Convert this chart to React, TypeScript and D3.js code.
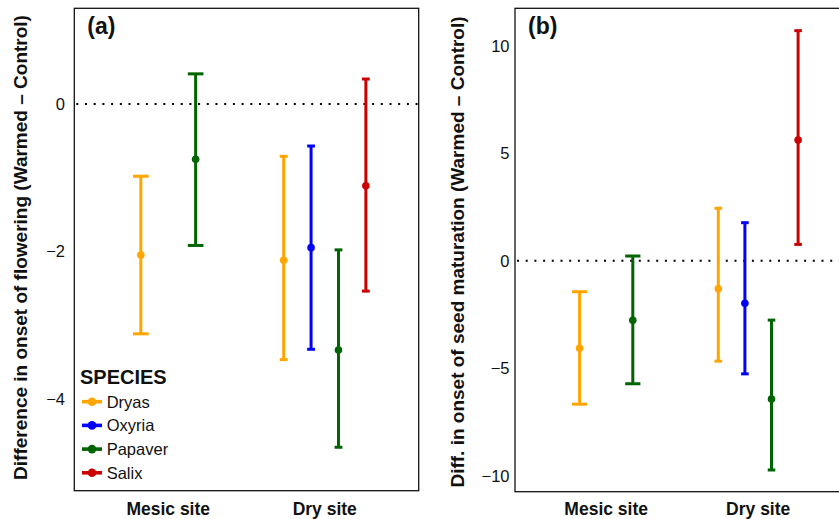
import React from 'react';
import * as d3 from 'd3';

// categories
const sites = ['Mesic site', 'Dry site'];
const species = ['Dryas', 'Oxyria', 'Papaver', 'Salix'];
const speciesColors = ['#FFA500', '#0000FF', '#006400', '#CD0000'];

// (a) onset of flowering
const flowerSite = ['Mesic site', 'Mesic site', 'Dry site', 'Dry site', 'Dry site', 'Dry site'];
const flowerSpecies = ['Dryas', 'Papaver', 'Dryas', 'Oxyria', 'Papaver', 'Salix'];
const flowerMean = [-2.05, -0.75, -2.12, -1.95, -3.34, -1.11];
const flowerLower = [-3.12, -1.92, -3.47, -3.33, -4.66, -2.54];
const flowerUpper = [-0.98, 0.41, -0.71, -0.57, -1.98, 0.34];
const flowerTicks = [-4, -2, 0];

// (b) onset of seed maturation
const seedSite = ['Mesic site', 'Mesic site', 'Dry site', 'Dry site', 'Dry site', 'Dry site'];
const seedSpecies = ['Dryas', 'Papaver', 'Dryas', 'Oxyria', 'Papaver', 'Salix'];
const seedMean = [-4.07, -2.77, -1.3, -1.98, -6.43, 5.61];
const seedLower = [-6.67, -5.72, -4.67, -5.26, -9.73, 0.76];
const seedUpper = [-1.44, 0.22, 2.44, 1.77, -2.76, 10.7];
const seedTicks = [-10, -5, 0, 5, 10];

const FONT = 'Liberation Sans, Arial, Helvetica, sans-serif';
const color = d3.scaleOrdinal<string, string>().domain(species).range(speciesColors);

type PanelProps = {
  label: string;
  title: string;
  site: string[];
  sp: string[];
  mean: number[];
  lower: number[];
  upper: number[];
  ticks: number[];
  left: number;
  right: number;
  top: number;
  bottom: number;
  yDomain: [number, number];
  tickX: number;
  titleX: number;
  titleY: number;
  legend?: boolean;
};

function Panel(p: PanelProps) {
  const x = d3.scalePoint<string>().domain(sites).range([p.left, p.right]).padding(0.6);
  const step = x.step();
  const y = d3.scaleLinear().domain(p.yDomain).range([p.bottom, p.top]);
  const dodge = 0.7;
  const capW = 0.2;

  const rows = p.mean.map((m, i) => {
    const inSite = p.sp.filter((_, j) => p.site[j] === p.site[i]);
    const n = inSite.length;
    const k = inSite.indexOf(p.sp[i]);
    const cx = (x(p.site[i]) as number) + (k - (n - 1) / 2) * (dodge / n) * step;
    return { cx, m, lo: p.lower[i], hi: p.upper[i], col: color(p.sp[i]), cap: (capW / n) * step };
  });

  return (
    <g>
      <rect x={p.left} y={p.top} width={p.right - p.left} height={p.bottom - p.top}
        fill="white" stroke="#111" strokeWidth={1.3} />
      <line x1={p.left + 2} x2={p.right} y1={y(0)} y2={y(0)} stroke="black"
        strokeWidth={2} strokeDasharray="2 6.7" />
      {rows.map((r, i) => (
        <g key={i}>
          <line x1={r.cx} x2={r.cx} y1={y(r.lo)} y2={y(r.hi)} stroke={r.col} strokeWidth={3} />
          <line x1={r.cx - r.cap / 2} x2={r.cx + r.cap / 2} y1={y(r.lo)} y2={y(r.lo)} stroke={r.col} strokeWidth={3} />
          <line x1={r.cx - r.cap / 2} x2={r.cx + r.cap / 2} y1={y(r.hi)} y2={y(r.hi)} stroke={r.col} strokeWidth={3} />
          <circle cx={r.cx} cy={y(r.m)} r={3.8} fill={r.col} />
        </g>
      ))}
      {p.ticks.map(t => (
        <text key={t} x={p.tickX} y={y(t)} dy="0.36em" textAnchor="end"
          fontFamily={FONT} fontSize={16.5} fill="#111">
          {t < 0 ? '\u2212' + Math.abs(t) : String(t)}
        </text>
      ))}
      {sites.map(s => (
        <text key={s} x={x(s)} y={515} textAnchor="middle" fontFamily={FONT}
          fontWeight="bold" fontSize={17.5} fill="#111">{s}</text>
      ))}
      <text transform={`translate(${p.titleX},${p.titleY}) rotate(-90)`} textAnchor="middle"
        fontFamily={FONT} fontWeight="bold" fontSize={19} fill="#111">{p.title}</text>
      <text x={p.left + 13} y={34} fontFamily={FONT} fontWeight="bold" fontSize={23} fill="#111">{p.label}</text>
      {p.legend && (
        <g>
          <text x={80} y={384} fontFamily={FONT} fontWeight="bold" fontSize={20} fill="#111">SPECIES</text>
          {species.map((s, i) => {
            const ly = 401.7 + i * 23.7;
            return (
              <g key={s}>
                <line x1={82} x2={102} y1={ly} y2={ly} stroke={color(s)} strokeWidth={3.6} />
                <circle cx={92} cy={ly} r={4.3} fill={color(s)} />
                <text x={106.7} y={ly} dy="0.36em" fontFamily={FONT} fontSize={16.5} fill="#111">{s}</text>
              </g>
            );
          })}
        </g>
      )}
    </g>
  );
}

export default function App() {
  return (
    <svg width={839} height={519} style={{ position: 'absolute', left: 0, top: 0, background: 'white' }}>
      <rect width={839} height={519} fill="white" />
      <Panel label="(a)" title="Difference in onset of flowering (Warmed – Control)"
        site={flowerSite} sp={flowerSpecies} mean={flowerMean} lower={flowerLower} upper={flowerUpper}
        ticks={flowerTicks} left={74.3} right={418.7} top={8.3} bottom={490.7} yDomain={[-5.25, 1.3]}
        tickX={65} titleX={27} titleY={247.5} legend />
      <Panel label="(b)" title="Diff. in onset of seed maturation (Warmed – Control)"
        site={seedSite} sp={seedSpecies} mean={seedMean} lower={seedLower} upper={seedUpper}
        ticks={seedTicks} left={515} right={849.4} top={8.3} bottom={491.7} yDomain={[-10.74, 11.74]}
        tickX={509.5} titleX={464} titleY={252} />
    </svg>
  );
}
